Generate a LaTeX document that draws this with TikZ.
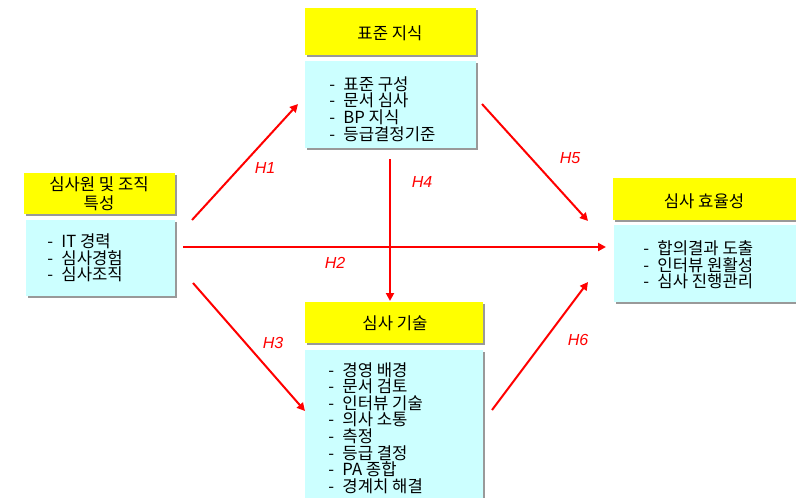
\documentclass[tikz,border=0pt]{standalone}
\usepackage{fontspec}
\setmainfont{Liberation Sans}
\newfontfamily\kr{Noto Sans CJK KR}
\usetikzlibrary{arrows.meta,shadows,fit}
\definecolor{hdryellow}{HTML}{FFFF00}
\definecolor{boxcyan}{HTML}{CCFFFF}
\definecolor{arrred}{HTML}{FF0000}
\newcommand\lstdash{\makebox[0.85em][l]{-}}
\tikzset{
  boxshadow/.style={drop shadow={shadow xshift=1.6pt,shadow yshift=-1.6pt,fill=black!40,opacity=1}},
  hdrbox/.style={fill=hdryellow,draw=none,inner sep=0pt,boxshadow},
  lstbox/.style={fill=boxcyan,draw=none,inner sep=0pt,boxshadow},
  hdrtext/.style={font=\kr\fontsize{12.5}{14.3}\selectfont,align=center,inner sep=0pt},
  lsttext/.style={font=\kr\fontsize{12.5}{12.4}\selectfont,align=left,inner sep=0pt,anchor=west},
  hyparrow/.style={draw=arrred,line width=1.5pt,-{Triangle[length=6pt,width=6pt]}},
  hyplabel/.style={text=arrred,font=\itshape\fontsize{12}{13}\selectfont,inner sep=0pt}
}
\begin{document}
\begin{tikzpicture}[x=0.75pt,y=-0.75pt]
\path[use as bounding box] (0,0) rectangle (796,497);
\clip (0,0) rectangle (796,497);
% left box
\node[hdrbox,fit={(24,173) (175,214)}] (lh) {};
\node[lstbox,fit={(26,220) (175,296)}] (lb) {};
\node[hdrtext] (lht) at (99,194) {심사원 및 조직\\특성};
\node[lsttext] (lbt) at (47,258) {\lstdash IT 경력\\\lstdash 심사경험\\\lstdash 심사조직};
% top box
\node[hdrbox,fit={(305,8) (476,55)}] (th) {};
\node[lstbox,fit={(305,61) (476,148)}] (tb) {};
\node[hdrtext] (tht) at (390,33) {표준 지식};
\node[lsttext] (tbt) at (329,109) {\lstdash 표준 구성\\\lstdash 문서 심사\\\lstdash BP 지식\\\lstdash 등급결정기준};
% right box
\node[hdrbox,fit={(613,178) (800,220)}] (rh) {};
\node[lstbox,fit={(614,225) (800,302)}] (rb) {};
\node[hdrtext] (rht) at (704,201) {심사 효율성};
\node[lsttext] (rbt) at (643,265) {\lstdash 합의결과 도출\\\lstdash 인터뷰 원활성\\\lstdash 심사 진행관리};
% bottom box
\node[hdrbox,fit={(305,302) (483,343)}] (bh) {};
\node[lstbox,fit={(305,350) (483,510)}] (bb) {};
\node[hdrtext] (bht) at (395,323) {심사 기술};
\node[lsttext] (bbt) at (328,428) {\lstdash 경영 배경\\\lstdash 문서 검토\\\lstdash 인터뷰 기술\\\lstdash 의사 소통\\\lstdash 측정\\\lstdash 등급 결정\\\lstdash PA 종합\\\lstdash 경계치 해결};
% arrow end points
\coordinate (h1s) at (192,220);
\coordinate (h1e) at (298,104);
\coordinate (h2s) at (183,247);
\coordinate (h2e) at (606,247);
\coordinate (h3s) at (193,283);
\coordinate (h3e) at (305,411);
\coordinate (h4s) at (390,159);
\coordinate (h4e) at (390,301);
\coordinate (h5s) at (482,104);
\coordinate (h5e) at (588,221);
\coordinate (h6s) at (492,410);
\coordinate (h6e) at (588,282);
\draw[hyparrow] (h1s) -- (h1e);
\draw[hyparrow] (h2s) -- (h2e);
\draw[hyparrow] (h3s) -- (h3e);
\draw[hyparrow] (h4s) -- (h4e);
\draw[hyparrow] (h5s) -- (h5e);
\draw[hyparrow] (h6s) -- (h6e);
\node[hyplabel] (l1) at (265,168) {H1};
\node[hyplabel] (l2) at (335,263) {H2};
\node[hyplabel] (l3) at (273,343) {H3};
\node[hyplabel] (l4) at (422,182) {H4};
\node[hyplabel] (l5) at (570,158) {H5};
\node[hyplabel] (l6) at (578,340) {H6};
\end{tikzpicture}
\end{document}
